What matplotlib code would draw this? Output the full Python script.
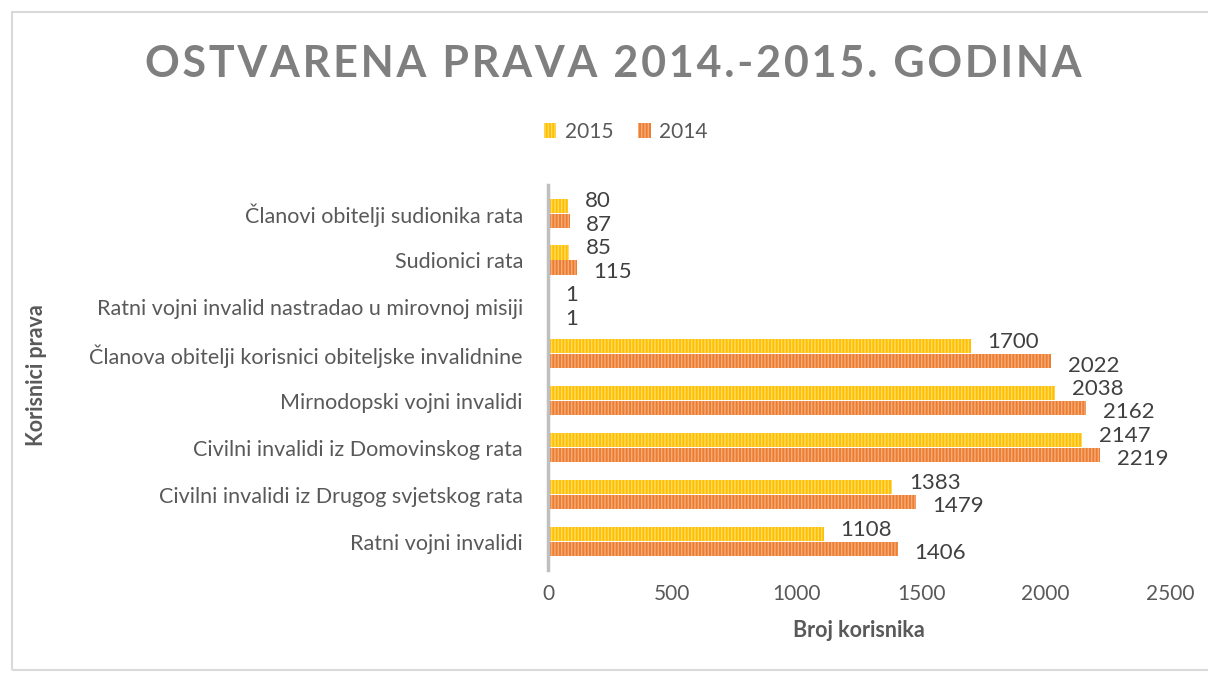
import numpy as np
import matplotlib.pyplot as plt
from matplotlib.patches import Rectangle

plt.rcParams['font.family'] = ['Lato', 'DejaVu Sans']
plt.rcParams['hatch.linewidth'] = 1.0

categories = ['Ratni vojni invalidi',
              'Civilni invalidi iz Drugog svjetskog rata',
              'Civilni invalidi iz Domovinskog rata',
              'Mirnodopski vojni invalidi',
              'Članova obitelji korisnici obiteljske invalidnine',
              'Ratni vojni invalid nastradao u mirovnoj misiji',
              'Sudionici rata',
              'Članovi obitelji sudionika rata']
v2015 = [1108, 1383, 2147, 2038, 1700, 1, 85, 80]
v2014 = [1406, 1479, 2219, 2162, 2022, 1, 115, 87]
xticks = [0, 500, 1000, 1500, 2000, 2500]
title = 'OSTVARENA PRAVA 2014.-2015. GODINA'

fig = plt.figure(figsize=(12.08, 6.75), dpi=100)
ax = fig.add_axes([0.4536, 0.156, 0.515, 0.57])

y = np.arange(len(categories))
h = 0.3
b15 = ax.barh(y + 0.16, v2015, height=h, color='#FFC000', edgecolor='#FFDA66',
              hatch='|||||', linewidth=0, label='2015')
b14 = ax.barh(y - 0.16, v2014, height=h, color='#ED7D31', edgecolor='#F4AC7A',
              hatch='|||||', linewidth=0, label='2014')

for i in range(len(categories)):
    ax.annotate(str(v2015[i]), (v2015[i], y[i] + 0.16), xytext=(12, 3),
                textcoords='offset points', va='center', fontsize=16, color='#404040')
    ax.annotate(str(v2014[i]), (v2014[i], y[i] - 0.16), xytext=(12, -3),
                textcoords='offset points', va='center', fontsize=16, color='#404040')

ax.set_xlim(0, 2500)
ax.set_ylim(-0.6, 7.6)
ax.set_xticks(xticks)
ax.set_yticks(y)
ax.set_yticklabels(categories)
ax.tick_params(axis='both', length=0, labelsize=15, labelcolor='#595959')
ax.tick_params(axis='y', labelsize=15.5, pad=18)
ax.tick_params(axis='x', pad=10)
for s in ['top', 'right', 'bottom']:
    ax.spines[s].set_visible(False)
ax.spines['left'].set_color('#BFBFBF')
ax.spines['left'].set_linewidth(2.5)

ax.set_xlabel('Broj korisnika', fontsize=15.5, fontweight='bold', color='#595959', labelpad=12)
fig.text(0.03, 0.444, 'Korisnici prava', rotation=90, fontsize=15.5, fontweight='bold',
         color='#595959', ha='center', va='center')

fig.text(0.508, 0.905, '\u200a'.join(title), ha='center', va='center',
         fontsize=31, fontweight='bold', color='#7F7F7F')

fig.legend(handles=[b15, b14], loc='center', bbox_to_anchor=(0.518, 0.805), ncol=2,
           frameon=False, fontsize=15, handlelength=0.6, handleheight=0.7,
           columnspacing=1.2, handletextpad=0.4, labelcolor='#595959')

fig.patches.append(Rectangle((0.01, 0.008), 1.0, 0.974, transform=fig.transFigure,
                             fill=False, edgecolor='#D9D9D9', linewidth=1.5))

fig.savefig('out.png', dpi=100)
